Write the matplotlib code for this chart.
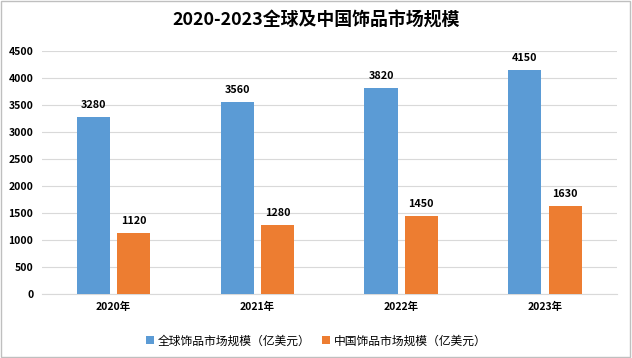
import matplotlib.pyplot as plt
import numpy as np
from matplotlib.patches import Rectangle

plt.rcParams['font.family'] = ['Noto Sans CJK SC', 'DejaVu Sans']

# 数据
years = ['2020年', '2021年', '2022年', '2023年']
global_size = [3280, 3560, 3820, 4150]
china_size = [1120, 1280, 1450, 1630]
labels = ['全球饰品市场规模（亿美元）', '中国饰品市场规模（亿美元）']
colors = ['#5B9BD5', '#ED7D31']

fig = plt.figure(figsize=(6.32, 3.58), dpi=100)
ax = fig.add_axes([0.066, 0.179, 0.91, 0.679])

x = np.arange(len(years))
w = 0.23
off = 0.14
b1 = ax.bar(x - off, global_size, w, color=colors[0], label=labels[0], zorder=3)
b2 = ax.bar(x + off, china_size, w, color=colors[1], label=labels[1], zorder=3)

for bars in (b1, b2):
    for r in bars:
        ax.text(r.get_x() + r.get_width() / 2, r.get_height() + 130,
                str(int(r.get_height())), ha='center', va='bottom',
                fontsize=7.8, fontweight='bold')

ax.set_xlim(-0.5, len(years) - 0.5)
ax.set_ylim(0, 4500)
ax.set_yticks(range(0, 4501, 500))
ax.set_xticks(x)
ax.set_xticklabels(years, fontweight='bold', fontsize=7.5)
for t in ax.get_yticklabels():
    t.set_fontweight('bold')
    t.set_fontsize(7.5)
ax.tick_params(length=0, pad=6)
ax.grid(axis='y', color='#D9D9D9', linewidth=0.8, zorder=0)
for s in ['top', 'right', 'left']:
    ax.spines[s].set_visible(False)
ax.spines['bottom'].set_color('#D9D9D9')

fig.text(0.5, 0.942, '2020-2023全球及中国饰品市场规模', ha='center', va='center',
         fontsize=12.9, fontweight='bold')
fig.legend(loc='lower center', bbox_to_anchor=(0.5, 0.0), ncol=2, frameon=False,
           fontsize=8.5, handlelength=0.7, handleheight=0.7, columnspacing=1.0, handletextpad=0.3)

fig.patches.append(Rectangle((0.002, 0.003), 0.995, 0.993, transform=fig.transFigure,
                             fill=False, edgecolor='#BFBFBF', linewidth=1))

fig.savefig('out.png', dpi=100)
